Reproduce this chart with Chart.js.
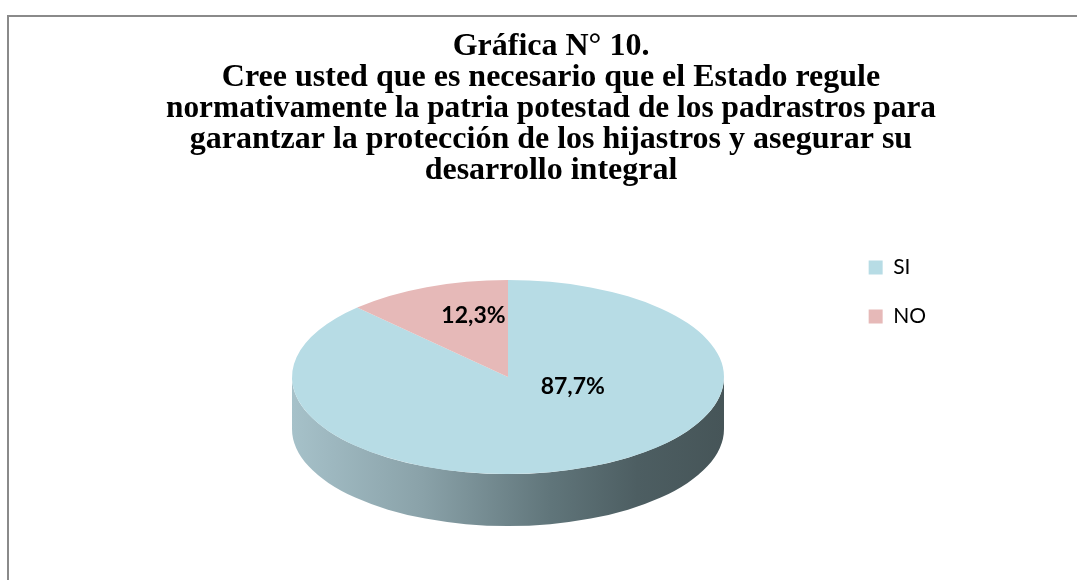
<!DOCTYPE html>
<html>
<head>
<meta charset="utf-8">
<script src="https://cdn.jsdelivr.net/npm/chart.js@4.4.1/dist/chart.umd.min.js"></script>
<style>
    html, body { margin: 0; padding: 0; background: #fff; overflow: hidden; }
    #frame { position: absolute; left: 7px; top: 15px; width: 1200px; height: 700px;
             border-left: 2px solid #8a8a8a; border-top: 2px solid #8a8a8a; }
    #wrap  { position: absolute; left: 0; top: 0; width: 1077px; height: 580px; }
</style>
</head>
<body>
<div id="frame"></div>
<div id="wrap"><canvas id="chartPie" width="1077" height="580"></canvas></div>
<script>
// ── Data ──────────────────────────────────────────────────────────────────────
const categories = ["SI", "NO"];
const percents   = [87.7, 12.3];
const titleLines = [
    "Gráfica N° 10.",
    "Cree usted que es necesario que el Estado regule",
    "normativamente la patria potestad de los padrastros para",
    "garantzar la protección de los hijastros y asegurar su",
    "desarrollo integral",
];

// ── Style ─────────────────────────────────────────────────────────────────────
const C = {
    si:     "#b7dce5",
    no:     "#e6b9b8",
    text:   "#000000",
};
// side shading of each slice (left → right across the pie)
const sideStops = [
    [[0, "#a6c1c9"], [0.3, "#8aa2a9"], [0.6, "#60757a"], [0.8, "#4d5e62"], [1, "#465558"]],
    [[0, "#c9a2a1"], [0.5, "#9a7877"], [1, "#6c5453"]],
];
// 3D tilt of the pie: centre, radii and depth on screen
const TILT = { cx: 508, cy: 377, rx: 216, ry: 97, depth: 52 };
// where each value label sits, as a fraction of the radii from the centre
const labelSpots = [[0.30, 0.10], [-0.16, -0.63]];

// ── 3D pie plugin ─────────────────────────────────────────────────────────────
const tiltPlugin = {
    id: "tilt",
    beforeDatasetsDraw(chart) {
        const ctx  = chart.ctx;
        const arcs = chart.getDatasetMeta(0).data;
        if (!arcs.length) return;
        const { cx, cy, rx, ry, depth } = TILT;

        // side walls (front half only)
        arcs.forEach((arc, i) => {
            const a0 = arc.startAngle, a1 = arc.endAngle;
            [[0, Math.PI], [2 * Math.PI, 3 * Math.PI], [-2 * Math.PI, -Math.PI]].forEach(([f0, f1]) => {
                const s = Math.max(a0, f0), e = Math.min(a1, f1);
                if (e <= s) return;
                const g = ctx.createLinearGradient(cx - rx, 0, cx + rx, 0);
                sideStops[i % sideStops.length].forEach(([p, col]) => g.addColorStop(p, col));
                ctx.save();
                ctx.beginPath();
                ctx.ellipse(cx, cy, rx, ry, 0, s, e, false);
                ctx.ellipse(cx, cy + depth, rx, ry, 0, e, s, true);
                ctx.closePath();
                ctx.fillStyle = g;
                ctx.fill();
                ctx.restore();
            });
        });

        // squash the top face into an ellipse
        const a = arcs[0];
        ctx.save();
        ctx.translate(cx, cy);
        ctx.scale(rx / a.outerRadius, ry / a.outerRadius);
        ctx.translate(-a.x, -a.y);
    },
    afterDatasetsDraw(chart) {
        const ctx = chart.ctx;
        ctx.restore();
        const { cx, cy, rx, ry } = TILT;
        const vals = chart.data.datasets[0].data;
        ctx.save();
        ctx.fillStyle    = C.text;
        ctx.font         = "bold 23px Lato";
        ctx.textAlign    = "center";
        ctx.textBaseline = "middle";
        vals.forEach((v, i) => {
            const [ux, uy] = labelSpots[i];
            ctx.fillText(v.toFixed(1).replace(".", ",") + "%", cx + rx * ux, cy + ry * uy);
        });
        ctx.restore();
    },
};

// ── Chart ─────────────────────────────────────────────────────────────────────
new Chart(document.getElementById("chartPie").getContext("2d"), {
    type: "pie",
    data: {
        labels: categories,
        datasets: [{
            data: percents,
            backgroundColor: [C.si, C.no],
            borderWidth: 0,
        }],
    },
    options: {
        responsive: false,
        animation: false,
        layout: { padding: { left: 166, right: 141, top: 4, bottom: 0 } },
        plugins: {
            title: {
                display: true,
                text: titleLines,
                color: C.text,
                font: { family: "'Liberation Serif', 'Times New Roman', serif", size: 32, weight: "bold", lineHeight: 0.97 },
                padding: { top: 27, bottom: 34 },
            },
            legend: {
                position: "right",
                align: "center",
                labels: {
                    color: C.text,
                    boxWidth: 14,
                    boxHeight: 14,
                    padding: 28,
                    font: { family: "Lato", size: 21 },
                },
            },
            tooltip: { enabled: false },
        },
    },
    plugins: [tiltPlugin],
});
</script>
</body>
</html>
